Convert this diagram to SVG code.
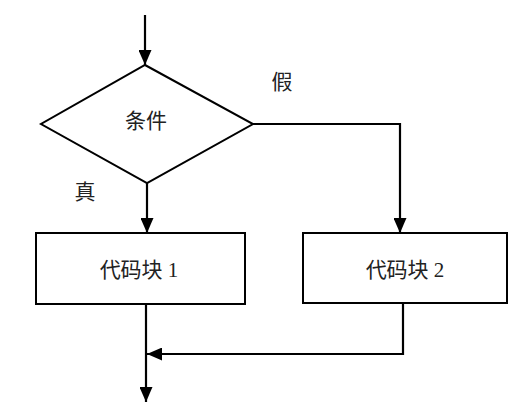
<svg xmlns="http://www.w3.org/2000/svg" width="526" height="418" viewBox="0 0 526 418">
<defs>
<marker id="ah" markerWidth="15" markerHeight="13" refX="15" refY="6.5" orient="auto" markerUnits="userSpaceOnUse">
<path d="M0,0 L15,6.5 L0,13 Z" fill="#000"/>
</marker>
<style>
.n{fill:#fff;stroke:#000;stroke-width:2}
.c{fill:none;stroke:#000;stroke-width:2.2}
.t{font-family:"Liberation Serif","Noto Sans CJK SC",serif;font-size:21px;fill:#222;text-anchor:middle;dominant-baseline:central}
</style>
</defs>
<rect width="526" height="418" fill="#fff"/>
<g id="connectors">
<path class="c" d="M145,15 L145,65" marker-end="url(#ah)"/>
<path class="c" d="M147,183 L147,233" marker-end="url(#ah)"/>
<path class="c" d="M253,124 L400,124 L400,233" marker-end="url(#ah)"/>
<path class="c" d="M146,304 L146,402" marker-end="url(#ah)"/>
<path class="c" d="M403,303 L403,354 L147,354" marker-end="url(#ah)"/>
</g>
<g id="cond">
<polygon class="n" points="145,65 253,124 147,183 41,124"/>
<text class="t" x="146" y="121">条件</text>
</g>
<g id="block1">
<rect class="n" x="36" y="233" width="209" height="71"/>
<text class="t" x="139" y="270">代码块 1</text>
</g>
<g id="block2">
<rect class="n" x="303" y="233" width="204" height="70"/>
<text class="t" x="405" y="270">代码块 2</text>
</g>
<g id="labels">
<text class="t" x="85" y="192">真</text>
<text class="t" x="282" y="82">假</text>
</g>
</svg>
